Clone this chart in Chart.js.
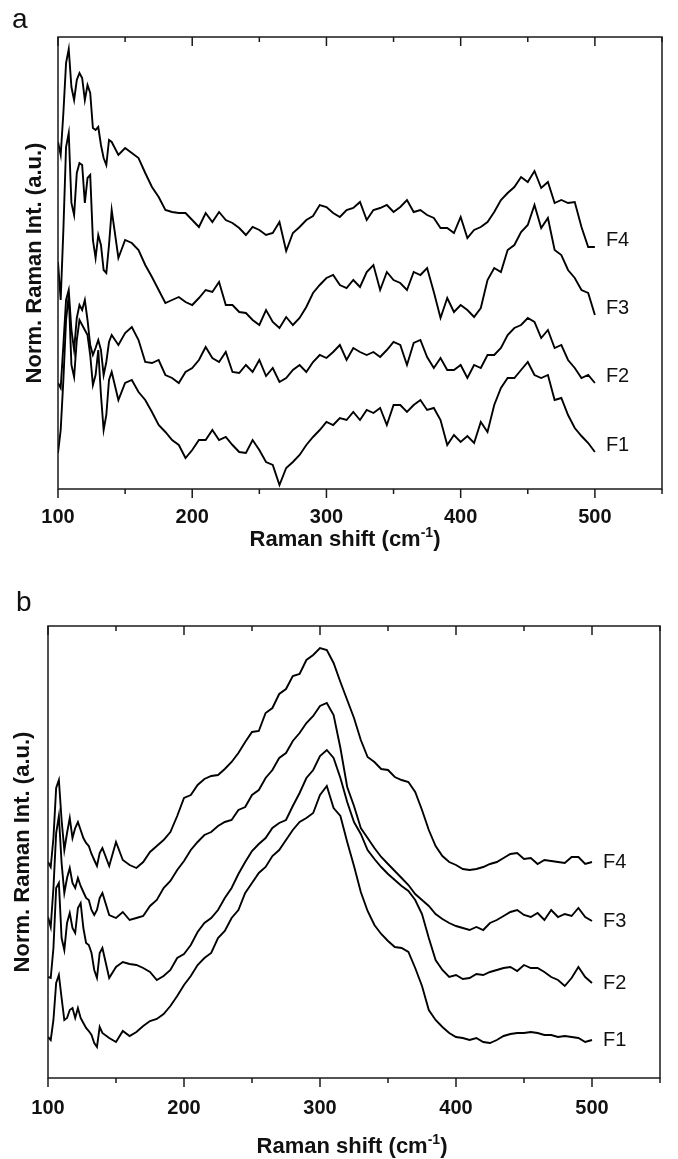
<!DOCTYPE html>
<html>
<head>
<meta charset="utf-8">
<script src="https://cdn.jsdelivr.net/npm/chart.js@4.4.0/dist/chart.umd.min.js"></script>
<style>
    html, body { margin: 0; padding: 0; background: #fff; }
    #wrap { position: relative; width: 678px; height: 1159px; }
    canvas { position: absolute; left: 0; }
    #PanelA { top: 0; }
    #PanelB { top: 580px; }
</style>
</head>
<body>
<div id="wrap">
    <canvas id="PanelA" width="678" height="580"></canvas>
    <canvas id="PanelB" width="678" height="579"></canvas>
</div>
<script>
// Raman shift (cm-1), shared by every spectrum
const shift = [100, 102, 104, 106, 108, 110, 112, 114, 116, 118, 120, 122, 124, 126, 128, 130, 132, 134, 136, 138, 140,
    145, 150, 155, 160, 165, 170, 175, 180, 185, 190, 195, 200, 205, 210, 215, 220, 225, 230, 235, 240,
    245, 250, 255, 260, 265, 270, 275, 280, 285, 290, 295, 300, 305, 310, 315, 320, 325, 330, 335, 340,
    345, 350, 355, 360, 365, 370, 375, 380, 385, 390, 395, 400, 405, 410, 415, 420, 425, 430, 435, 440,
    445, 450, 455, 460, 465, 470, 475, 480, 485, 490, 495, 500];

// panel a, stacked normalised intensities (a.u.)
const a_F4 = [347, 334, 376, 426, 440, 402, 389, 409, 416, 411, 389, 404, 396, 361, 359, 362, 344, 331, 324, 349, 347,
    334, 341, 336, 331, 316, 302, 292, 279, 277, 276, 276, 269, 262, 276, 267, 277, 269, 266, 261, 254,
    262, 259, 254, 256, 267, 238, 256, 262, 269, 273, 284, 282, 276, 272, 279, 281, 287, 269, 279, 281,
    284, 277, 282, 289, 277, 279, 274, 271, 261, 261, 256, 272, 251, 259, 262, 267, 277, 289, 296, 302,
    312, 307, 318, 301, 307, 286, 289, 286, 287, 262, 242, 242];
const a_F3 = [227, 189, 259, 342, 356, 286, 274, 316, 326, 324, 286, 311, 314, 249, 231, 254, 244, 219, 216, 244, 279,
    231, 249, 246, 239, 224, 212, 199, 186, 189, 192, 187, 184, 191, 199, 197, 207, 184, 184, 177, 176,
    169, 164, 179, 167, 161, 172, 164, 171, 182, 196, 204, 211, 214, 204, 201, 209, 202, 217, 224, 199,
    217, 209, 206, 199, 217, 214, 221, 197, 171, 191, 177, 184, 179, 172, 181, 209, 221, 217, 239, 244,
    257, 264, 284, 261, 271, 239, 234, 219, 211, 199, 196, 174];
const a_F2 = [106, 101, 144, 189, 199, 159, 139, 171, 184, 179, 189, 169, 144, 134, 141, 149, 139, 114, 127, 147, 154,
    144, 156, 162, 149, 127, 126, 129, 114, 111, 106, 117, 121, 129, 142, 131, 127, 137, 117, 116, 124,
    117, 129, 113, 121, 107, 111, 119, 124, 117, 127, 134, 131, 137, 144, 129, 141, 137, 134, 137, 132,
    139, 147, 144, 124, 146, 149, 132, 121, 131, 119, 119, 124, 111, 124, 121, 134, 134, 141, 154, 161,
    164, 171, 167, 151, 159, 141, 144, 129, 121, 111, 114, 106];
const a_F1 = [36, 59, 109, 169, 194, 124, 112, 149, 169, 164, 159, 154, 134, 104, 114, 139, 94, 59, 74, 109, 117,
    89, 106, 109, 97, 89, 77, 64, 57, 49, 44, 31, 39, 49, 49, 59, 49, 52, 44, 37, 36,
    49, 39, 27, 24, 4, 21, 27, 34, 44, 52, 59, 67, 64, 71, 69, 77, 69, 79, 76, 81,
    64, 84, 84, 77, 84, 89, 79, 81, 69, 44, 54, 47, 53, 46, 67, 57, 84, 101, 111, 111,
    119, 127, 114, 111, 114, 89, 91, 74, 61, 53, 46, 37];

// panel b
const b_F4 = [216, 211, 240, 290, 298, 258, 228, 245, 260, 240, 250, 256, 248, 240, 235, 232, 224, 218, 212, 225, 230,
    212, 236, 218, 213, 210, 216, 226, 232, 238, 246, 262, 280, 283, 293, 299, 302, 303, 309, 316, 325,
    336, 346, 347, 365, 370, 384, 389, 402, 404, 418, 423, 430, 428, 415, 396, 378, 360, 338, 321, 316,
    309, 308, 301, 298, 296, 286, 268, 248, 232, 222, 216, 213, 209, 208, 209, 211, 214, 216, 220, 224,
    225, 219, 220, 214, 218, 217, 216, 215, 221, 221, 214, 216];
const b_F3 = [161, 151, 190, 245, 262, 215, 185, 200, 210, 195, 190, 200, 192, 186, 180, 178, 168, 163, 168, 180, 185,
    163, 160, 166, 158, 160, 162, 172, 178, 190, 197, 208, 217, 228, 236, 243, 246, 252, 256, 258, 268,
    271, 283, 288, 300, 308, 320, 325, 337, 345, 355, 362, 372, 375, 363, 330, 291, 272, 250, 240, 230,
    221, 214, 207, 200, 193, 184, 178, 172, 164, 159, 155, 152, 150, 148, 151, 148, 155, 158, 162, 166,
    168, 163, 161, 165, 158, 168, 161, 164, 162, 170, 161, 157];
const b_F2 = [101, 100, 130, 190, 195, 140, 128, 155, 165, 150, 145, 170, 175, 150, 135, 133, 125, 108, 100, 125, 130,
    100, 111, 116, 114, 113, 110, 106, 98, 102, 108, 120, 124, 133, 146, 155, 160, 168, 180, 190, 204,
    216, 227, 234, 240, 250, 255, 258, 272, 285, 300, 308, 322, 328, 320, 300, 276, 256, 244, 228, 219,
    211, 204, 198, 192, 187, 178, 164, 140, 118, 108, 101, 103, 99, 100, 104, 103, 106, 108, 110, 111,
    107, 113, 110, 110, 106, 101, 98, 92, 100, 111, 101, 95];
const b_F1 = [41, 38, 58, 95, 103, 80, 58, 60, 68, 70, 60, 70, 60, 55, 50, 47, 43, 35, 31, 51, 45,
    40, 36, 47, 42, 46, 52, 57, 59, 64, 72, 82, 93, 102, 113, 120, 125, 140, 147, 160, 168,
    185, 195, 205, 211, 222, 228, 238, 248, 256, 260, 265, 283, 292, 270, 262, 236, 212, 186, 167, 153,
    144, 137, 131, 130, 126, 110, 92, 68, 58, 51, 45, 41, 40, 38, 40, 36, 35, 38, 42, 44,
    45, 45, 46, 45, 43, 43, 41, 42, 41, 40, 36, 38];

const series_names = ['F1', 'F2', 'F3', 'F4'];

const text_font = '"Liberation Sans", Arial, Helvetica, sans-serif';

function points(values) {
    return shift.map((s, i) => ({x: s, y: values[i]}));
}

// frame, Origin style ticks, panel letter, curve names and x title
const decorations = {
    id: 'decorations',
    afterDraw(chart, args, opts) {
        const ctx = chart.ctx;
        const {left, right, top, bottom} = chart.chartArea;
        const x = chart.scales.x;
        const y = chart.scales.y;
        ctx.save();
        ctx.strokeStyle = '#1a1a1a';
        ctx.lineWidth = 1.5;
        ctx.strokeRect(left, top, right - left, bottom - top);
        ctx.beginPath();
        for (let v = 100; v <= 550; v += 50) {
            const px = x.getPixelForValue(v);
            const len = v % 100 === 0 ? 9 : 5;
            ctx.moveTo(px, bottom);
            ctx.lineTo(px, bottom + len);
            ctx.moveTo(px, top);
            ctx.lineTo(px, top + len);
        }
        ctx.stroke();

        ctx.fillStyle = '#111';
        ctx.textAlign = 'left';
        ctx.textBaseline = 'middle';
        ctx.font = '28px ' + text_font;
        ctx.fillText(opts.letter, opts.letterX, opts.letterY);

        ctx.font = '20px ' + text_font;
        chart.data.datasets.forEach(ds => {
            const last = ds.data[ds.data.length - 1].y;
            ctx.fillText(ds.label, x.getPixelForValue(500) + 11, y.getPixelForValue(last + opts.nameOffset));
        });

        // x axis title with superscript
        ctx.textBaseline = 'alphabetic';
        const main = 'Raman shift (cm';
        const sup = '-1';
        const bold = 'bold 22px ' + text_font;
        const small = 'bold 14px ' + text_font;
        ctx.font = bold;
        const w1 = ctx.measureText(main).width;
        const w3 = ctx.measureText(')').width;
        ctx.font = small;
        const w2 = ctx.measureText(sup).width;
        let tx = opts.titleX - (w1 + w2 + w3) / 2;
        ctx.font = bold;
        ctx.fillText(main, tx, opts.titleY);
        ctx.font = small;
        ctx.fillText(sup, tx + w1, opts.titleY - 9);
        ctx.font = bold;
        ctx.fillText(')', tx + w1 + w2, opts.titleY);
        ctx.restore();
    }
};

function make_panel(canvas_id, values, setup) {
    return new Chart(
        document.getElementById(canvas_id),
        {
            type: 'line',
            data: {
                datasets: values.map((v, i) => ({
                    label: series_names[i],
                    data: points(v),
                    borderColor: '#000',
                    borderWidth: 1.9,
                    pointRadius: 0,
                    tension: 0,
                    fill: false,
                }))
            },
            options: {
                responsive: false,
                animation: false,
                layout: {
                    padding: {top: setup.top, right: setup.right, left: 0, bottom: 0}
                },
                scales: {
                    x: {
                        type: 'linear',
                        min: 100,
                        max: 550,
                        afterFit: (scale) => { scale.height = setup.xHeight; },
                        grid: {display: false, drawTicks: false},
                        border: {display: false},
                        ticks: {
                            stepSize: 100,
                            autoSkip: false,
                            maxRotation: 0,
                            padding: setup.tickPad,
                            color: '#111',
                            font: {family: text_font, size: 20, weight: 'bold'},
                            callback: (v) => (v % 100 === 0 && v <= 500) ? v : ''
                        }
                    },
                    y: {
                        min: 0,
                        max: 452,
                        afterFit: (scale) => { scale.width = setup.yWidth; },
                        grid: {display: false, drawTicks: false},
                        border: {display: false},
                        ticks: {display: false},
                        title: {
                            display: true,
                            text: 'Norm. Raman Int. (a.u.)',
                            color: '#111',
                            padding: {top: setup.yTitlePad, bottom: 0},
                            font: {family: text_font, size: 22, weight: 'bold'}
                        }
                    }
                },
                plugins: {
                    legend: {display: false},
                    tooltip: {enabled: false},
                    decorations: {
                        letter: setup.letter,
                        letterX: setup.letterX,
                        letterY: setup.letterY,
                        nameOffset: setup.nameOffset,
                        titleX: setup.titleX,
                        titleY: setup.titleY
                    }
                }
            },
            plugins: [decorations]
        }
    );
}

make_panel('PanelA', [a_F1, a_F2, a_F3, a_F4], {
    top: 37, right: 6, xHeight: 91, yWidth: 58, tickPad: 16, yTitlePad: 22,
    letter: 'a', letterX: 12, letterY: 20, nameOffset: 7,
    titleX: 345, titleY: 546
});

make_panel('PanelB', [b_F1, b_F2, b_F3, b_F4], {
    top: 46, right: 16, xHeight: 81, yWidth: 48, tickPad: 18, yTitlePad: 10,
    letter: 'b', letterX: 16, letterY: 23, nameOffset: 0,
    titleX: 352, titleY: 573
});
</script>
</body>
</html>
